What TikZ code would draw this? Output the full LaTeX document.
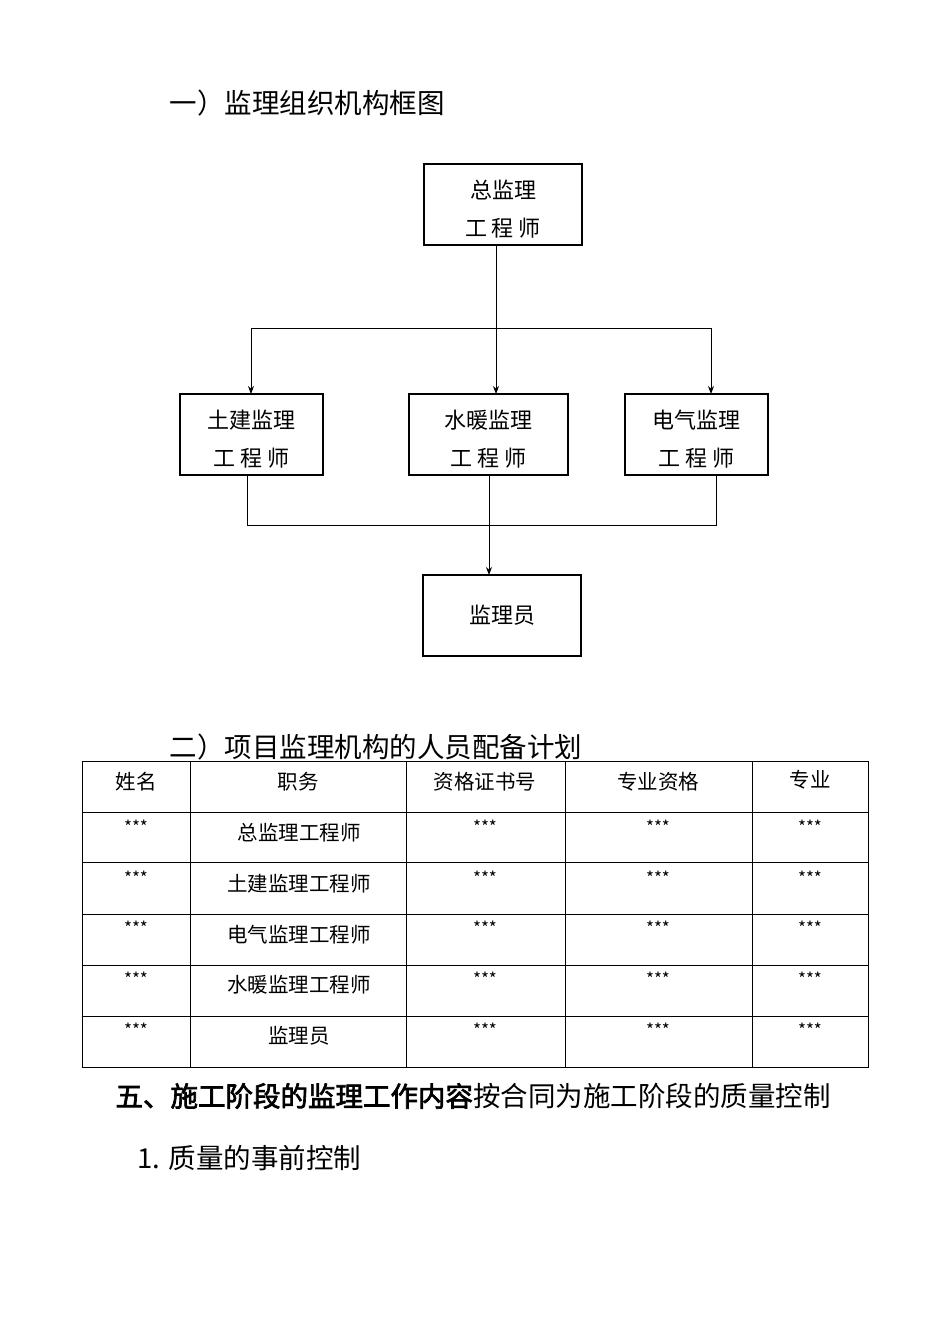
\documentclass[tikz,border=0pt]{standalone}
\usepackage{fontspec}
\setmainfont{Noto Sans CJK SC}[AutoFakeBold=2.5]
\usetikzlibrary{arrows.meta}
\begin{document}
\begin{tikzpicture}[x=1pt,y=-1pt,
  box/.style={draw,line width=1.8pt,minimum width=#1,minimum height=81pt,inner sep=0pt},
  btxt/.style={align=center,inner sep=0pt,font=\fontsize{22}{38}\selectfont},
  conn/.style={line width=0.8pt},
  arr/.style={conn,-{Stealth[length=8pt,width=6pt]}},
  tt/.style={font=\fontsize{20.5}{22}\selectfont},
  st/.style={font=\fontsize{17}{18}\selectfont},
  ttl/.style={anchor=west,font=\fontsize{27.5}{30}\selectfont}]
\useasboundingbox (0,0) rectangle (950,1344);
\node[ttl] (t1) at (166,103) {一）监理组织机构框图};
\node[box=158pt] (top) at (503,204.5) {};
\node[box=143pt] (tj) at (251.5,434.5) {};
\node[box=159pt] (sn) at (488.5,434.5) {};
\node[box=143pt] (dq) at (696.5,434.5) {};
\node[box=158pt] (jl) at (502,615.5) {};
\node[btxt] at ([yshift=-5pt]top.center) {总监理\\工\ 程\ 师};
\node[btxt] at ([yshift=-5pt]tj.center) {土建监理\\工\ 程\ 师};
\node[btxt] at ([yshift=-5pt]sn.center) {水暖监理\\工\ 程\ 师};
\node[btxt] at ([yshift=-5pt]dq.center) {电气监理\\工\ 程\ 师};
\node[btxt] at (jl.center) {监理员};
\coordinate (a) at (496,245); \coordinate (b) at (496,394);
\draw[arr] (a) -- (b);
\coordinate (hl) at (251,328); \coordinate (hr) at (711,328);
\draw[conn] (hl) -- (hr);
\draw[arr] (hl) -- (251,394);
\draw[arr] (hr) -- (711,394);
\draw[conn] (247,475) -- (247,525) -- (716,525) -- (716,475);
\draw[arr] (489,475) -- (489,575);
\node[ttl] (t2) at (166,747) {二）项目监理机构的人员配备计划};
\draw[line width=0.6pt] (82,761) rectangle (868,1067);
\foreach \y in {812,862,914,965,1016} \draw[line width=0.6pt] (82,\y) -- (868,\y);
\foreach \x in {190,406,565,752} \draw[line width=0.6pt] (\x,761) -- (\x,1067);
\node[tt] (h1) at (136,782) {姓名};
\node[tt] (h2) at (298,782) {职务};
\node[tt] (h3) at (485,782) {资格证书号};
\node[tt] (h4) at (658,782) {专业资格};
\node[tt] (h5) at (810,780) {专业};
\foreach \r/\n in {0/总监理工程师,1/土建监理工程师,2/电气监理工程师,3/水暖监理工程师,4/监理员}{
  \pgfmathsetmacro\yy{827+\r*50.6}
  \node[st] at (136,\yy) {***};
  \node[tt] at (299,\yy+6) {\n};
  \node[st] at (485,\yy) {***};
  \node[st] at (658,\yy) {***};
  \node[st] at (810,\yy) {***};
}
\node[ttl] (t3) at (112,1096) {\textbf{五、施工阶段的监理工作内容}按合同为施工阶段的质量控制};
\node[ttl] (t4) at (134,1158) {1. 质量的事前控制};
\end{tikzpicture}
\end{document}
